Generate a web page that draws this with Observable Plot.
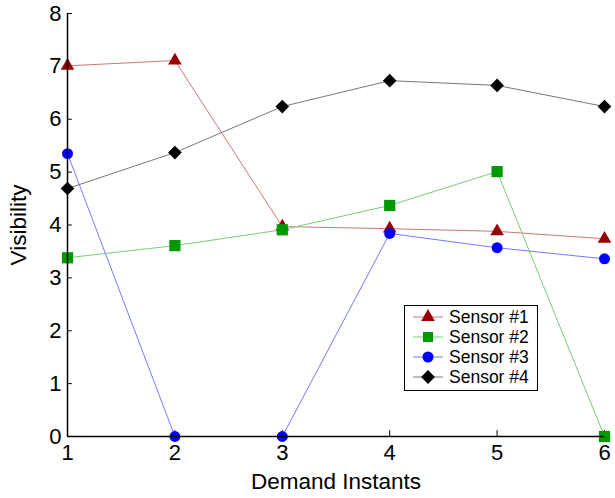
<!DOCTYPE html>
<html><head><meta charset="utf-8">
<script src="https://cdn.jsdelivr.net/npm/d3@7"></script>
<script src="https://cdn.jsdelivr.net/npm/@observablehq/plot@0.6"></script>
<style>
body{margin:0;background:#fff;font-family:"Liberation Sans",Arial,sans-serif;}
#wrap{position:relative;width:615px;height:498px;}
#legend{position:absolute;left:404px;top:305px;width:134px;height:86px;border:1.2px solid #000;background:#fff;box-sizing:border-box;font-size:17.5px;padding-top:1px;}
.row{display:flex;align-items:center;height:20px;line-height:20px;}
.row svg{margin-left:8px;margin-right:6px;}
.lbl{position:absolute;font-size:22.5px;color:#000;white-space:nowrap;}
</style></head>
<body><div id="wrap"></div>
<script>
const instants = [1, 2, 3, 4, 5, 6];
const sensorNames = ["Sensor #1", "Sensor #2", "Sensor #3", "Sensor #4"];
const sensor1 = [7.01, 7.11, 3.97, 3.93, 3.88, 3.74];
const sensor2 = [3.38, 3.61, 3.91, 4.37, 5.01, 0];
const sensor3 = [5.35, 0, 0, 3.84, 3.57, 3.36];
const sensor4 = [4.69, 5.37, 6.24, 6.73, 6.64, 6.24];
const yTicks = [0, 1, 2, 3, 4, 5, 6, 7, 8];
const xTitle = "Demand Instants";
const yTitle = "Visibility";

const lineColors = ["#cc7777", "#77cc77", "#7777ff", "#777777"];
const markColors = ["#990000", "#009900", "#0000ff", "#000000"];
const symbols = ["triangle2", "square", "circle", "diamond2"];
const sizes = [42, 40, 30, 38];

const series = [sensor1, sensor2, sensor3, sensor4];
const data = series.flatMap((vals, i) => vals.map((v, j) => ({x: instants[j], y: v, s: i})));

const marks = [];
series.forEach((vals, i) => {
  const d = data.filter(r => r.s === i);
  marks.push(Plot.line(d, {x: "x", y: "y", stroke: lineColors[i], strokeWidth: 1}));
});
series.forEach((vals, i) => {
  const d = data.filter(r => r.s === i);
  marks.push(Plot.dot(d, {x: "x", y: "y", symbol: () => symbols[i], fill: markColors[i], stroke: "none", r: Math.sqrt(sizes[i])}));
});

const chart = Plot.plot({
  width: 615, height: 498,
  marginLeft: 67, marginRight: 11, marginTop: 13, marginBottom: 62,
  style: {fontFamily: "'Liberation Sans', Arial, sans-serif", fontSize: "22px", color: "#000", background: "#fff", overflow: "visible"},
  x: {domain: [1, 6]},
  y: {domain: [0, 8]},
  marks: [
    Plot.axisX(instants, {tickSize: 0, tickPadding: 8, fontSize: 22, label: null, tickFormat: d3.format("d")}),
    Plot.axisY(yTicks, {tickSize: 0, tickPadding: 6, fontSize: 22, label: null, tickFormat: d3.format("d")}),
    Plot.ruleX(instants, {y1: 0, y2: 0.11, stroke: "#000", strokeWidth: 1}),
    Plot.ruleY(yTicks, {x1: 1, x2: 1.045, stroke: "#000", strokeWidth: 1}),
    ...marks,
    Plot.ruleY([0], {stroke: "#000", strokeWidth: 1.5}),
    Plot.ruleX([1], {stroke: "#000", strokeWidth: 1.5})
  ]
});
const wrap = document.getElementById("wrap");
wrap.appendChild(chart);

const xl = document.createElement("div");
xl.className = "lbl"; xl.textContent = xTitle;
xl.style.left = "336px"; xl.style.top = "469px"; xl.style.transform = "translateX(-50%)";
wrap.appendChild(xl);
const yl = document.createElement("div");
yl.className = "lbl"; yl.textContent = yTitle;
yl.style.left = "19px"; yl.style.top = "225px"; yl.style.transform = "translate(-50%,-50%) rotate(-90deg)";
wrap.appendChild(yl);

const legend = document.createElement("div");
legend.id = "legend";
sensorNames.forEach((name, i) => {
  const row = document.createElement("div");
  row.className = "row";
  const sym = d3.symbol(i === 0 ? d3.symbolTriangle2 : i === 1 ? d3.symbolSquare2 : i === 2 ? d3.symbolCircle : d3.symbolDiamond2, sizes[i] * 3.2)();
  row.innerHTML = `<svg width="30" height="16"><line x1="0" x2="30" y1="8" y2="8" stroke="${lineColors[i]}" stroke-width="1"/><path transform="translate(15,8)" d="${sym}" fill="${markColors[i]}"/></svg><span>${name}</span>`;
  legend.appendChild(row);
});
wrap.appendChild(legend);
</script></body></html>
